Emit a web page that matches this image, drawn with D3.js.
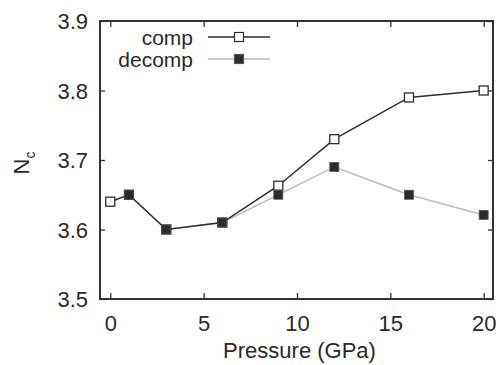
<!DOCTYPE html>
<html>
<head>
<meta charset="utf-8">
<script src="https://cdn.jsdelivr.net/npm/d3@7"></script>
<style>
  html, body { margin: 0; padding: 0; background: #fff; }
  svg { display: block; }
  text { font-family: "Liberation Sans", Arial, sans-serif; fill: #2a2a2a; }
</style>
</head>
<body>
<script>
// Coordination number vs. pressure on compression and decompression
const compPressure   = [0, 1, 3, 6, 9, 12, 16, 20];
const compNc         = [3.64, 3.65, 3.60, 3.61, 3.663, 3.73, 3.79, 3.80];
const decompPressure = [1, 3, 6, 9, 12, 16, 20];
const decompNc       = [3.65, 3.60, 3.61, 3.65, 3.69, 3.65, 3.621];
const xTicks = [0, 5, 10, 15, 20];
const yTicks = [3.5, 3.6, 3.7, 3.8, 3.9];
const seriesNames = ["comp", "decomp"];

const W = 498, H = 365;
const m = { left: 100, right: 5, top: 21, bottom: 66 };

const svg = d3.select("body").append("svg").attr("width", W).attr("height", H);

const x = d3.scaleLinear().domain([-0.55, 20.5]).range([m.left, W - m.right]);
const y = d3.scaleLinear().domain([3.5, 3.9]).range([H - m.bottom, m.top]);

const frameColor = "#333";
const x0 = x.range()[0], x1 = x.range()[1];
const y0 = y.range()[0], y1 = y.range()[1];

// Bottom axis with labels, inward ticks
const gx = svg.append("g").attr("transform", `translate(0,${y0})`)
  .call(d3.axisBottom(x).tickValues(xTicks).tickSize(-6).tickPadding(16).tickFormat(d3.format("d")));
// Top axis, ticks only
const gxt = svg.append("g").attr("transform", `translate(0,${y1})`)
  .call(d3.axisTop(x).tickValues(xTicks).tickSize(-6).tickFormat(""));
// Left axis with labels
const gy = svg.append("g").attr("transform", `translate(${x0},0)`)
  .call(d3.axisLeft(y).tickValues(yTicks).tickSize(-5).tickPadding(12).tickFormat(d3.format(".1f")));
// Right axis, ticks only
const gyr = svg.append("g").attr("transform", `translate(${x1},0)`)
  .call(d3.axisRight(y).tickValues(yTicks).tickSize(-5).tickFormat(""));

[gx, gxt, gy, gyr].forEach(g => {
  g.select(".domain").remove();
  g.selectAll(".tick line").attr("stroke", frameColor).attr("stroke-width", 1.3);
  g.selectAll("text").attr("font-size", 22).attr("fill", "#2a2a2a");
});
gy.selectAll(".tick text").attr("dy", "0.36em");

// Plot frame
svg.append("rect")
  .attr("x", x0).attr("y", y1)
  .attr("width", x1 - x0).attr("height", y0 - y1)
  .attr("fill", "none").attr("stroke", frameColor).attr("stroke-width", 2);

// Axis titles
svg.append("text")
  .attr("x", (x0 + x1) / 2 + 3).attr("y", 358)
  .attr("text-anchor", "middle").attr("font-size", 22)
  .text("Pressure (GPa)");

const yl = svg.append("text")
  .attr("transform", "translate(29,163) rotate(-90)")
  .attr("text-anchor", "middle").attr("font-size", 22);
yl.append("tspan").text("N");
yl.append("tspan").attr("font-size", 14).attr("dy", 6).text("c");

const comp = compPressure.map((p, i) => ({ p, v: compNc[i] }));
const decomp = decompPressure.map((p, i) => ({ p, v: decompNc[i] }));
const line = d3.line().x(d => x(d.p)).y(d => y(d.v));

const compColor = "#2e2e2e";
const decompLine = "#bdbdbd";
const decompFill = "#2b2b2b";
const sq = 9;

svg.append("path").datum(decomp).attr("d", line)
  .attr("fill", "none").attr("stroke", decompLine).attr("stroke-width", 1.5);
svg.append("path").datum(comp).attr("d", line)
  .attr("fill", "none").attr("stroke", compColor).attr("stroke-width", 1.5);

svg.append("g").selectAll("rect").data(comp).join("rect")
  .attr("x", d => x(d.p) - sq / 2).attr("y", d => y(d.v) - sq / 2)
  .attr("width", sq).attr("height", sq)
  .attr("fill", "#fff").attr("stroke", compColor).attr("stroke-width", 1.3);

svg.append("g").selectAll("rect").data(decomp).join("rect")
  .attr("x", d => x(d.p) - sq / 2).attr("y", d => y(d.v) - sq / 2)
  .attr("width", sq).attr("height", sq)
  .attr("fill", decompFill).attr("stroke", "#555").attr("stroke-width", 0.8);

// Legend
const legend = svg.append("g");
const legendRows = [
  { name: seriesNames[0], ty: 45, ly: 37, stroke: compColor, fill: "#fff", mstroke: compColor },
  { name: seriesNames[1], ty: 67, ly: 59, stroke: decompLine, fill: decompFill, mstroke: "#555" }
];
legendRows.forEach(r => {
  legend.append("text").attr("x", 193).attr("y", r.ty)
    .attr("text-anchor", "end").attr("font-size", 21).text(r.name);
  legend.append("line").attr("x1", 208).attr("x2", 270).attr("y1", r.ly).attr("y2", r.ly)
    .attr("stroke", r.stroke).attr("stroke-width", 1.5);
  legend.append("rect").attr("x", 239 - sq / 2).attr("y", r.ly - sq / 2)
    .attr("width", sq).attr("height", sq)
    .attr("fill", r.fill).attr("stroke", r.mstroke).attr("stroke-width", 1.2);
});
</script>
</body>
</html>
